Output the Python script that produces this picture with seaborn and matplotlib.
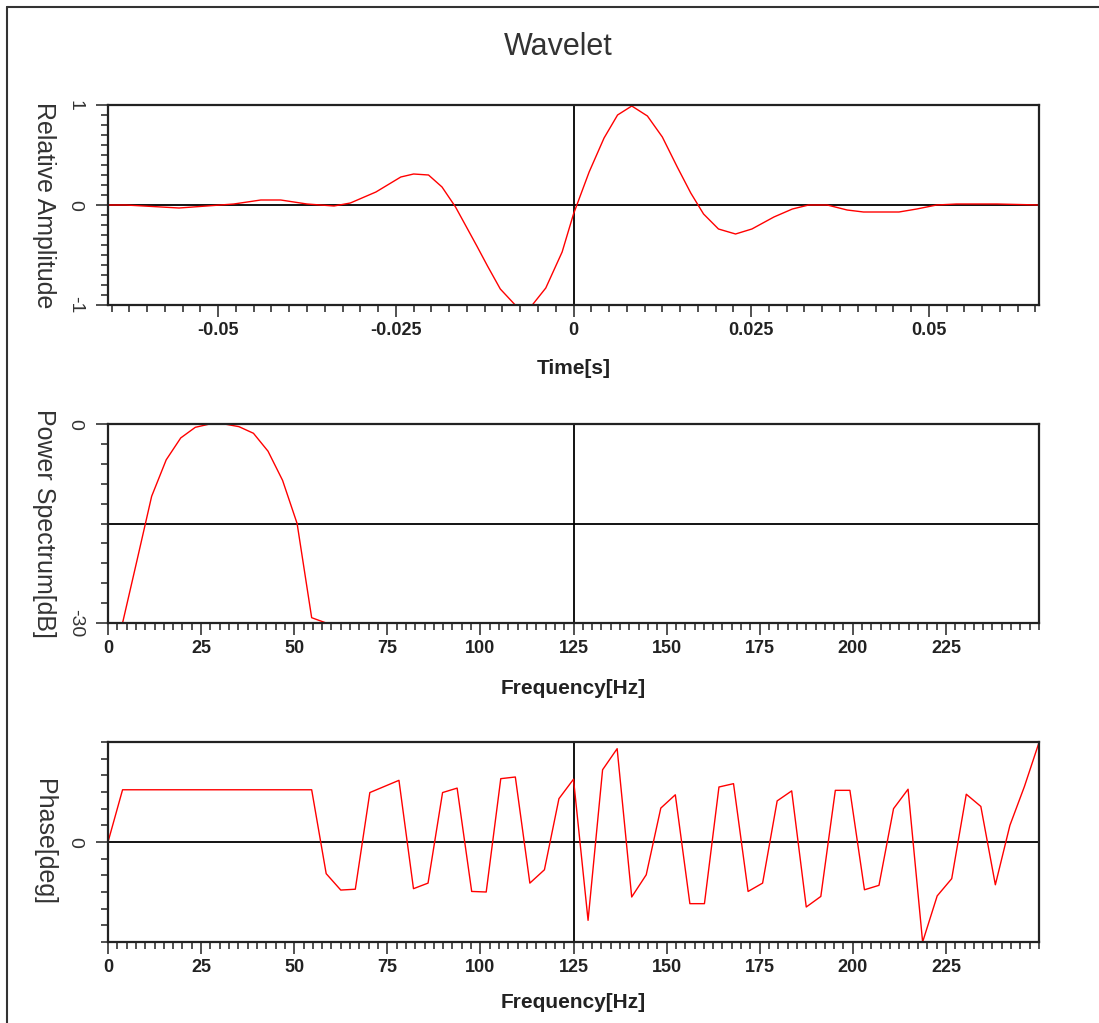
import numpy as np
import pandas as pd
import seaborn as sns
import matplotlib.pyplot as plt
from matplotlib.ticker import MultipleLocator, FixedLocator
from matplotlib.lines import Line2D

# Dane
czas = [-0.0655, -0.0630, -0.0555, -0.0516, -0.0478, -0.0440, -0.0412, -0.0375,
        -0.0337, -0.0314, -0.0278, -0.0243, -0.0225, -0.0204, -0.0185, -0.0166,
        -0.0136, -0.0121, -0.0103, -0.0082, -0.0058, -0.0039, -0.0016, 0.0000,
        0.0022, 0.0043, 0.0062, 0.0082, 0.0104, 0.0125, 0.0146, 0.0165,
        0.0183, 0.0204, 0.0228, 0.0251, 0.0282, 0.0308, 0.0331, 0.0357,
        0.0385, 0.0408, 0.0436, 0.0458, 0.0483, 0.0511, 0.0539, 0.0596, 0.0656]
amplituda = [0.0, 0.0, -0.03, -0.01, 0.01, 0.05, 0.05, 0.01,
             -0.01, 0.02, 0.13, 0.28, 0.31, 0.30, 0.18, -0.02,
             -0.41, -0.61, -0.84, -1.0, -1.0, -0.83, -0.47, -0.09,
             0.33, 0.67, 0.90, 0.99, 0.89, 0.68, 0.38, 0.12,
             -0.09, -0.24, -0.29, -0.24, -0.12, -0.04, 0.0, 0.0,
             -0.05, -0.07, -0.07, -0.07, -0.04, 0.0, 0.01, 0.01, 0.0]

czestotliwosc = [0, 3.91, 7.81, 11.72, 15.63, 19.53, 23.44, 27.34, 31.25, 35.16,
                 39.06, 42.97, 46.88, 50.78, 54.69, 58.59, 62.5, 66.41, 70.31, 74.22,
                 78.13, 82.03, 85.94, 89.84, 93.75, 97.66, 101.56, 105.47, 109.38, 113.28,
                 117.19, 121.09, 125, 128.91, 132.81, 136.72, 140.63, 144.53, 148.44, 152.34,
                 156.25, 160.16, 164.06, 167.97, 171.88, 175.78, 179.69, 183.59, 187.5, 191.41,
                 195.31, 199.22, 203.13, 207.03, 210.94, 214.84, 218.75, 222.66, 226.56, 230.47,
                 234.38, 238.28, 242.19, 246.09, 250]

moc_db = [-30, -30, -20.5, -10.9, -5.4, -2.1, -0.5, 0, 0, -0.4,
          -1.4, -4.1, -8.5, -15.0, -29.2, -30, -30]

faza = [0, 94, 94, 94, 94, 94, 94, 94, 94, 94, 94, 94, 94, 94, 94,
        -57, -86.5, -85, 89, 100, 111, -84, -74, 89, 97,
        -89, -90, 114, 117, -74, -50, 78, 113, -141, 130,
        168, -99, -59, 61, 85, -111, -111, 99, 105, -89,
        -74, 74, 92, -117, -98, 93, 93, -86, -78, 60,
        95, -180, -97, -66, 86, 64, -77, 30, 100, 179]

df_czas = pd.DataFrame({'t': czas, 'a': amplituda})
df_moc = pd.DataFrame({'f': czestotliwosc[:len(moc_db)], 'p': moc_db})
df_faza = pd.DataFrame({'f': czestotliwosc, 'ph': faza})

sns.set_style('ticks')
plt.rcParams['font.family'] = ['Liberation Sans', 'DejaVu Sans']
plt.rcParams['xtick.major.size'] = 8.5
plt.rcParams['xtick.minor.size'] = 5
plt.rcParams['ytick.major.size'] = 8.5
plt.rcParams['ytick.minor.size'] = 5
plt.rcParams['xtick.major.width'] = 1.1
plt.rcParams['xtick.minor.width'] = 1.1
plt.rcParams['ytick.major.width'] = 1.1
plt.rcParams['ytick.minor.width'] = 1.1
plt.rcParams['xtick.direction'] = 'out'
plt.rcParams['ytick.direction'] = 'out'

W, H = 1099, 1023
fig = plt.figure(figsize=(W / 100, H / 100), dpi=100)


def nowa_os(top, bottom):
    ax = fig.add_axes([108 / W, 1 - bottom / H, 931 / W, (bottom - top) / H])
    for s in ax.spines.values():
        s.set_linewidth(1.6)
        s.set_color('#222222')
        s.set_zorder(4)
    ax.tick_params(which='both', color='#222222')
    ax.tick_params(axis='x', labelsize=13, pad=4)
    ax.tick_params(axis='y', pad=9)
    return ax


def etykiety(ax, xlab, ylab, ypos, yticki):
    ax.yaxis.set_major_locator(FixedLocator(yticki))
    ax.set_yticklabels([str(v) for v in yticki], fontsize=14, rotation=270,
                       color='#333333', va='center')
    ax.set_xlabel(xlab, fontsize=15, fontweight='bold', color='#222222')
    ax.xaxis.set_label_coords(0.5, ypos)
    ax.xaxis.label.set_va('center')
    ax.set_ylabel(ylab, fontsize=18, rotation=270, color='#333333')
    ax.yaxis.set_label_coords(-0.069, 0.5)
    ax.yaxis.label.set_va('center')
    for lab in ax.get_xticklabels():
        lab.set_fontweight('bold')
        lab.set_color('#222222')


# 1. Falka w czasie
ax1 = nowa_os(105, 305)
ax1.axhline(0, color='black', lw=1.3, zorder=1)
ax1.axvline(0, color='black', lw=1.3, zorder=1)
sns.lineplot(data=df_czas, x='t', y='a', ax=ax1, color='red', lw=1,
             estimator=None, sort=False, zorder=3)
ax1.set_xlim(-0.0655, 0.0655)
ax1.set_ylim(-1, 1)
ax1.xaxis.set_major_locator(FixedLocator([-0.05, -0.025, 0, 0.025, 0.05]))
ax1.xaxis.set_minor_locator(MultipleLocator(0.0025))
ax1.set_xticklabels(['-0.05', '-0.025', '0', '0.025', '0.05'])
ax1.yaxis.set_minor_locator(MultipleLocator(0.1))
etykiety(ax1, 'Time[s]', 'Relative Amplitude', -0.315, [-1, 0, 1])

x_ticks = [0, 25, 50, 75, 100, 125, 150, 175, 200, 225]

# 2. Widmo mocy
ax2 = nowa_os(424, 623)
ax2.axhline(-15, color='black', lw=1.3, zorder=1)
ax2.axvline(125, color='black', lw=1.3, zorder=1)
sns.lineplot(data=df_moc, x='f', y='p', ax=ax2, color='red', lw=1,
             estimator=None, sort=False, zorder=3)
ax2.set_xlim(0, 250)
ax2.set_ylim(-30, 0)
ax2.xaxis.set_major_locator(FixedLocator(x_ticks))
ax2.xaxis.set_minor_locator(MultipleLocator(2.5))
ax2.set_xticklabels([str(v) for v in x_ticks])
ax2.yaxis.set_minor_locator(MultipleLocator(3))
etykiety(ax2, 'Frequency[Hz]', 'Power Spectrum[dB]', -0.327, [-30, 0])

# 3. Faza
ax3 = nowa_os(742, 942)
ax3.axhline(0, color='black', lw=1.3, zorder=1)
ax3.axvline(125, color='black', lw=1.3, zorder=1)
sns.lineplot(data=df_faza, x='f', y='ph', ax=ax3, color='red', lw=1,
             estimator=None, sort=False, zorder=3)
ax3.set_xlim(0, 250)
ax3.set_ylim(-180, 180)
ax3.xaxis.set_major_locator(FixedLocator(x_ticks))
ax3.xaxis.set_minor_locator(MultipleLocator(2.5))
ax3.set_xticklabels([str(v) for v in x_ticks])
ax3.yaxis.set_minor_locator(MultipleLocator(30))
etykiety(ax3, 'Frequency[Hz]', 'Phase[deg]', -0.305, [0])

fig.text(558 / W, 1 - 47 / H, 'Wavelet', fontsize=22, ha='center', va='center',
         color='#333333')

# ramka
fig.add_artist(Line2D([7 / W, 1], [1 - 7 / H, 1 - 7 / H], transform=fig.transFigure,
                      color='#333333', lw=1.5))
fig.add_artist(Line2D([7 / W, 7 / W], [0, 1 - 7 / H], transform=fig.transFigure,
                      color='#333333', lw=1.5))

fig.savefig('out.png', dpi=100)
